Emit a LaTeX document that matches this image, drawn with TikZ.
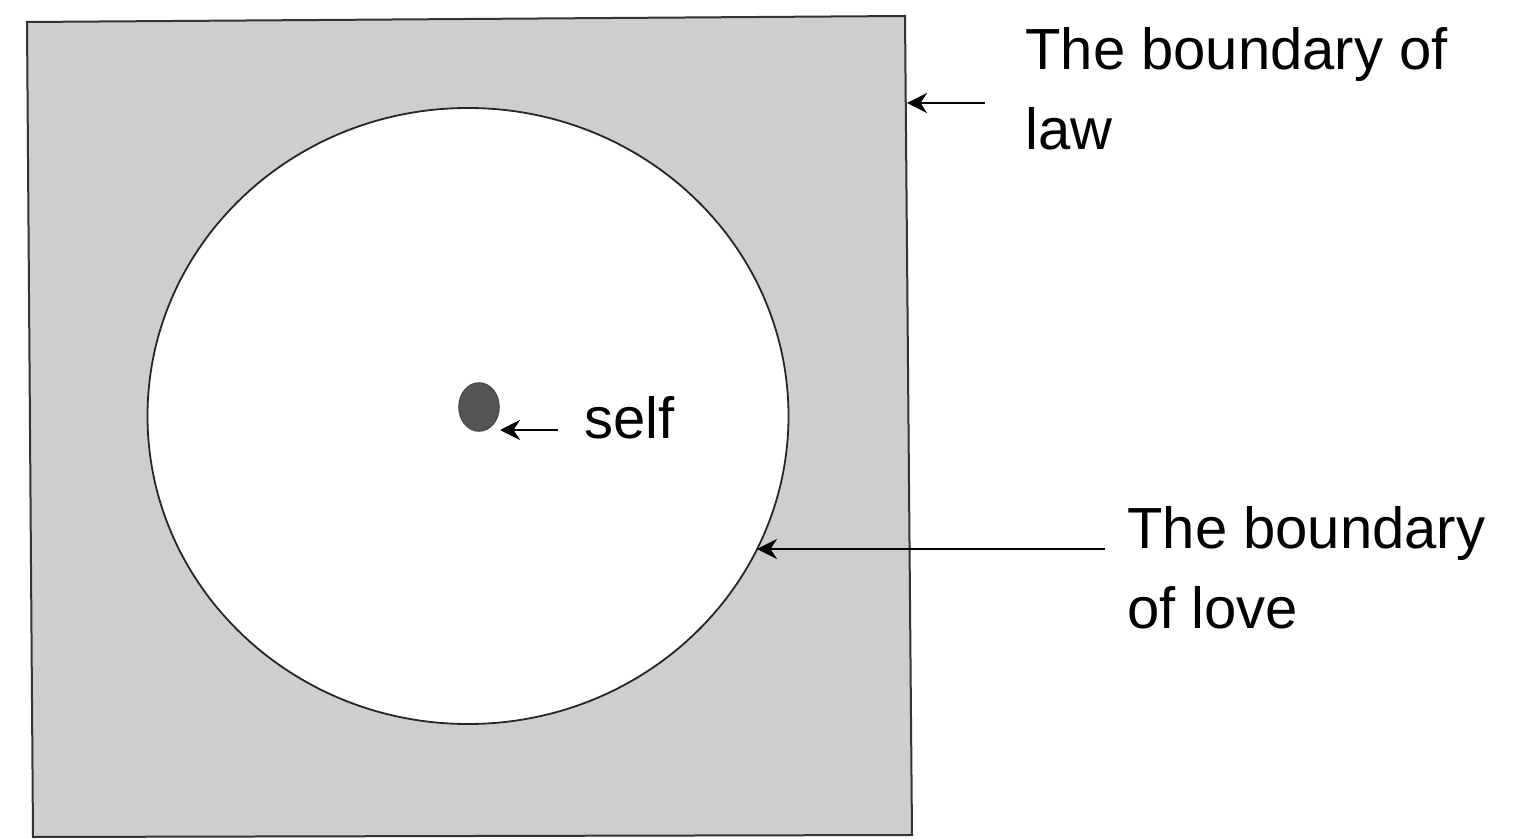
\documentclass[tikz,border=0pt]{standalone}
\usepackage{fontspec}
\setmainfont{Liberation Sans}
\usetikzlibrary{shapes.geometric,arrows.meta}
\definecolor{lawgray}{RGB}{206,206,206}
\definecolor{dotgray}{RGB}{85,85,85}
\tikzset{
  lbl/.style={anchor=base west, inner sep=0pt, font=\fontsize{29}{35}\selectfont},
  ptr/.style={draw=black, line width=1.4pt, -{Stealth[length=10pt,width=10pt]}},
}
\begin{document}
\begin{tikzpicture}[x=0.5pt,y=-0.5pt]
\useasboundingbox (0,0) rectangle (1520,839);
% square (boundary of law)
\coordinate (tl) at (27,22);
\coordinate (tr) at (905,16);
\coordinate (br) at (912,835);
\coordinate (bl) at (33,837);
\filldraw[fill=lawgray, draw=black!80, line width=1pt] (tl) -- (tr) -- (br) -- (bl) -- cycle;
% circle (boundary of love)
\node (love) [ellipse, draw=black!85, fill=white, line width=0.9pt, minimum width=320.5pt, minimum height=308pt, inner sep=0pt] at (468,416) {};
% self dot
\node (dot) [ellipse, fill=dotgray, draw=black!70, line width=0.8pt, minimum width=20pt, minimum height=24pt, inner sep=0pt] at (479,407) {};
% labels
\node (self) [lbl] at (584,438) {self};
\node (law1) [lbl] at (1025,70) {The boundary of};
\node (law2) [lbl] at (1025,150) {law};
\node (love1) [lbl] at (1127,548) {The boundary};
\node (love2) [lbl] at (1127,628) {of love};
% arrows
\coordinate (selfstart) at (558,430);
\coordinate (selfend) at (500,430);
\draw[ptr] (selfstart) -- (selfend);
\coordinate (lawstart) at (985,103);
\coordinate (lawend) at (907,103);
\draw[ptr] (lawstart) -- (lawend);
\coordinate (lovestart) at (1105,549);
\coordinate (loveend) at (757,549);
\draw[ptr] (lovestart) -- (loveend);
\end{tikzpicture}
\end{document}
